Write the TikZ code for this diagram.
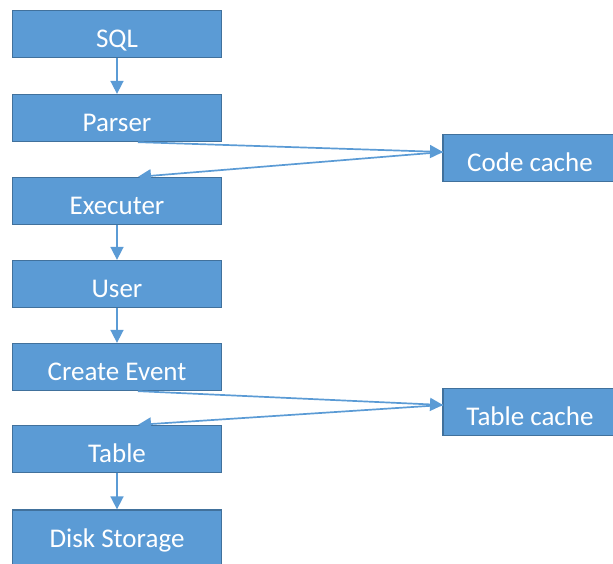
\documentclass[tikz,border=0pt]{standalone}
\usepackage{fontspec}
\setmainfont{Carlito}
\usetikzlibrary{arrows.meta}
\definecolor{boxblue}{HTML}{5B9BD5}
\definecolor{boxline}{HTML}{41719C}
\tikzset{
    blk/.style={draw=boxline,fill=boxblue,line width=1.3pt,text=white,
        minimum width=209pt,minimum height=47pt,inner sep=0pt,
        text height=26pt,text depth=0pt,
        font=\fontsize{27}{32}\selectfont},
    cblk/.style={blk,minimum width=176pt},
    arr/.style={draw=boxblue,line width=1.7pt,-{Triangle[length=13pt,width=13pt]}}
}
\begin{document}
\begin{tikzpicture}[x=1pt,y=-1pt]
    \useasboundingbox (0,0) rectangle (613,563);
    \node[blk] (sql) at (117,34) {SQL};
    \node[blk] (parser) at (117,118) {Parser};
    \node[blk] (exec) at (117,201) {Executer};
    \node[blk] (user) at (117,284) {User};
    \node[blk] (event) at (117,367) {Create Event};
    \node[blk] (table) at (117,449) {Table};
    \node[blk,minimum height=64pt,text height=10pt] (disk) at (117,542) {Disk Storage};
    \node[cblk] (code) at (531,158) {\hspace*{-2pt}Code cache};
    \node[cblk] (tcache) at (531,412) {\hspace*{-2pt}Table cache};
    \coordinate (cin) at (443,152);
    \coordinate (tin) at (443,405);
    % main chain
    \draw[arr] (sql) -- (parser);
    \draw[arr] (exec) -- (user);
    \draw[arr] (user) -- (event);
    \draw[arr] (table) -- (disk);
    % caches
    \draw[arr] ([xshift=21pt]parser.south) -- (cin);
    \draw[arr] (cin) -- ([xshift=21pt]exec.north);
    \draw[arr] ([xshift=21pt]event.south) -- (tin);
    \draw[arr] (tin) -- ([xshift=21pt]table.north);
\end{tikzpicture}
\end{document}
